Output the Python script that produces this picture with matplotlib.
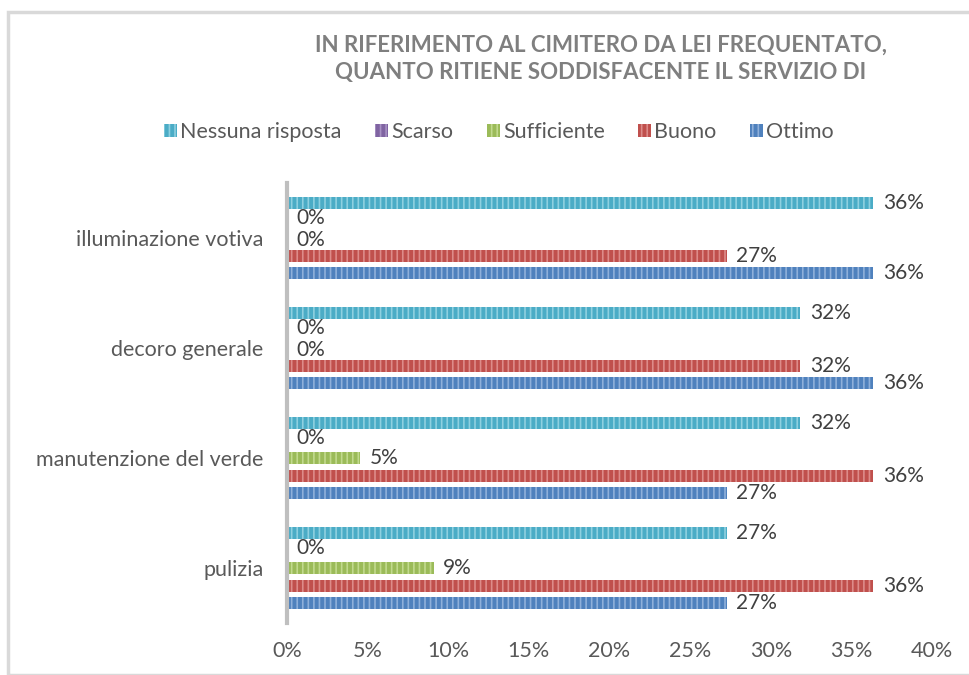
import matplotlib.pyplot as plt
from matplotlib.patches import Rectangle, Patch
import numpy as np

# categories bottom -> top (as Excel draws them)
categories = ['pulizia', 'manutenzione del verde', 'decoro generale', 'illuminazione votiva']
series = ['Nessuna risposta', 'Scarso', 'Sufficiente', 'Buono', 'Ottimo']

nessuna = [6/22, 7/22, 7/22, 8/22]
scarso = [0, 0, 0, 0]
sufficiente = [2/22, 1/22, 0, 0]
buono = [8/22, 8/22, 7/22, 6/22]
ottimo = [6/22, 6/22, 8/22, 8/22]

colors = ['#4BACC6', '#8064A2', '#9BBB59', '#C0504D', '#4F81BD']
hatch_colors = ['#8FD0E0', '#A892C4', '#C2DA8E', '#DD8C8A', '#8FB0DA']

plt.rcParams['font.family'] = ['Lato', 'DejaVu Sans']
plt.rcParams['hatch.linewidth'] = 1.2

fig = plt.figure(figsize=(9.69, 6.75), dpi=100)
ax = fig.add_axes([287/969, 1-623/675, (932-287)/969, (623-183)/675])

# outer chart border
fig.patches.append(Rectangle((8/969, 0), 1.0, 1-12/675, transform=fig.transFigure,
                             fill=False, edgecolor='#D9D9D9', linewidth=2.5))

y = np.arange(len(categories))
step = 17.5/110
h = 12/110
values = [nessuna, scarso, sufficiente, buono, ottimo]

for k, (name, vals) in enumerate(zip(series, values)):
    pos = y + (2 - k) * step
    ax.barh(pos, vals, height=h, color=colors[k], edgecolor=hatch_colors[k],
            linewidth=0, hatch='|||', label=name)
    for p, v in zip(pos, vals):
        dy = 0
        # stacked zero labels sit very close, spread them a little
        if v == 0 and k == 1:
            dy = 1.5
        elif v == 0 and k == 2:
            dy = -1.5
        ax.annotate('{:.0%}'.format(v), (v, p), xytext=(7, dy), textcoords='offset points',
                    va='center', ha='left', fontsize=15, color='#404040')

ax.set_xlim(0, 0.40)
ax.set_ylim(-0.5, 3.5)
ax.set_xticks(np.arange(0, 0.41, 0.05))
ax.set_xticklabels(['{:.0%}'.format(t) for t in np.arange(0, 0.41, 0.05)])
ax.set_yticks(y)
ax.set_yticklabels(categories)
ax.tick_params(axis='both', length=0, labelsize=15.5, labelcolor='#595959')
ax.tick_params(axis='x', pad=13)
ax.tick_params(axis='y', pad=17)

for s in ['top', 'right', 'bottom']:
    ax.spines[s].set_visible(False)
ax.spines['left'].set_color('#BFBFBF')
ax.spines['left'].set_linewidth(3)

fig.text(0.62, 1-59/675, 'IN RIFERIMENTO AL CIMITERO DA LEI FREQUENTATO,\nQUANTO RITIENE SODDISFACENTE IL SERVIZIO DI',
         ha='center', va='center', fontsize=16, fontweight='bold', color='#7F7F7F',
         linespacing=1.35)

handles = [Patch(facecolor=colors[k], edgecolor=hatch_colors[k], linewidth=0,
                 hatch='|||', label=series[k]) for k in range(5)]
fig.legend(handles=handles, loc='center', bbox_to_anchor=(499/969, 1-132/675), ncol=5,
           frameon=False, fontsize=15.5, handlelength=0.6, handleheight=0.6,
           handletextpad=0.15, columnspacing=1.55, labelcolor='#595959')

fig.savefig('out.png', dpi=100)
